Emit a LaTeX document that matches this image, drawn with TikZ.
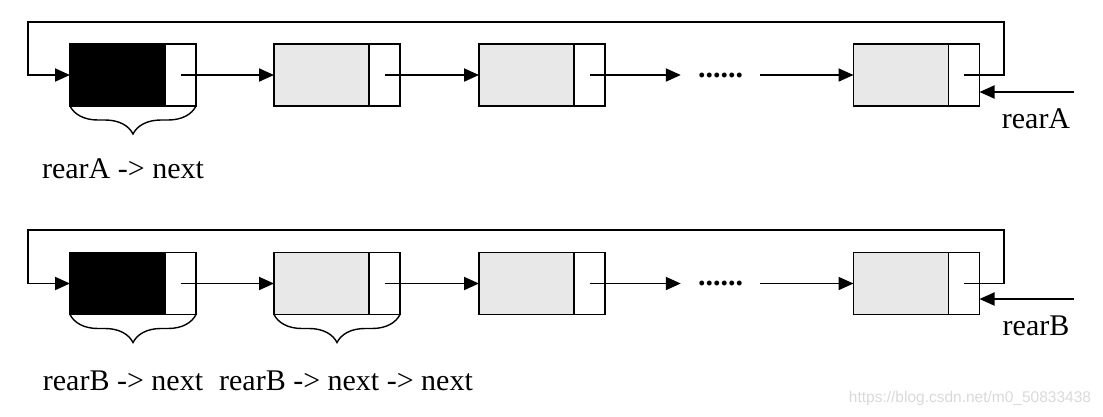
\documentclass[tikz,border=0pt]{standalone}
\usepackage{fontspec}
\setmainfont{Liberation Serif}
\newfontfamily\wmfont{Liberation Sans}
\usetikzlibrary{positioning,arrows.meta,decorations.pathreplacing}

\begin{document}
\begin{tikzpicture}[
  x=1pt, y=-1pt,
  ln/.style={line width=1.9pt},
  arr/.style={ln, -{Triangle[length=15pt,width=13pt]}},
  datbox/.style={draw, line width=1.9pt, fill=gray!18, minimum width=95pt, minimum height=62pt, inner sep=0pt, outer sep=0pt},
  headbox/.style={datbox, fill=black},
  ptrbox/.style={draw, line width=1.9pt, fill=white, minimum width=31pt, minimum height=62pt, inner sep=0pt, outer sep=0pt},
  brc/.style={decorate, decoration={brace, mirror, amplitude=28pt, aspect=0.5}, line width=1.4pt},
  lbl/.style={font=\fontsize{30}{36}\selectfont, inner sep=0pt},
  dots/.style={font=\bfseries\fontsize{30}{36}\selectfont, inner sep=17pt},
]
\useasboundingbox (0,0) rectangle (1103,416);

% first list (rearA)
\node[headbox] (a1) at (117.5,75) {};
\node[ptrbox, right=0pt of a1] (a1p) {};
\node[datbox, right=78pt of a1p] (a2) {};
\node[ptrbox, right=0pt of a2] (a2p) {};
\node[datbox, right=79pt of a2p] (a3) {};
\node[ptrbox, right=0pt of a3] (a3p) {};
\node[dots] (dA) at (720.5,75) {......};
\node[datbox] (a4) at (901,75) {};
\node[ptrbox, right=0pt of a4] (a4p) {};
\coordinate (loopA) at (28,22);
\coordinate (rA) at (1074,92);
\node[lbl, anchor=base] (rAl) at (1036,128) {rearA};
\node[lbl, anchor=base] (nA) at (123,178) {rearA -> next};

\draw[arr] (a1p.center) -- (a2.west);
\draw[arr] (a2p.center) -- (a3.west);
\draw[arr] (a3p.center) -- (dA.west);
\draw[arr] (dA.east) -- (a4.west);
\draw[arr] (a4p.center) -- ++(40,0) |- (loopA) |- (a1.west);
\draw[arr] (rA) -- (rA -| a4p.east);
\draw[brc] (a1.south west) -- (a1p.south east);

% second list (rearB)
\node[headbox] (b1) at (117.5,283.5) {};
\node[ptrbox, right=0pt of b1] (b1p) {};
\node[datbox, right=78pt of b1p] (b2) {};
\node[ptrbox, right=0pt of b2] (b2p) {};
\node[datbox, right=79pt of b2p] (b3) {};
\node[ptrbox, right=0pt of b3] (b3p) {};
\node[dots] (dB) at (720.5,283.5) {......};
\node[datbox] (b4) at (901,283.5) {};
\node[ptrbox, right=0pt of b4] (b4p) {};
\coordinate (loopB) at (28,230);
\coordinate (rB) at (1074,299);
\node[lbl, anchor=base] (rBl) at (1036,335) {rearB};
\node[lbl, anchor=base] (nB) at (123,390) {rearB -> next};
\node[lbl, anchor=base] (nnB) at (346,390) {rearB -> next -> next};

\draw[arr] (b1p.center) -- (b2.west);
\draw[arr] (b2p.center) -- (b3.west);
\draw[arr] (b3p.center) -- (dB.west);
\draw[arr] (dB.east) -- (b4.west);
\draw[arr] (b4p.center) -- ++(40,0) |- (loopB) |- (b1.west);
\draw[arr] (rB) -- (rB -| b4p.east);
\draw[brc] (b1.south west) -- (b1p.south east);
\draw[brc] (b2.south west) -- (b2p.south east);

\node[font=\wmfont\fontsize{15.5}{18}\selectfont, text=gray!30, inner sep=0pt] (wm) at (970,398) {https://blog.csdn.net/m0\_50833438};
\end{tikzpicture}
\end{document}
